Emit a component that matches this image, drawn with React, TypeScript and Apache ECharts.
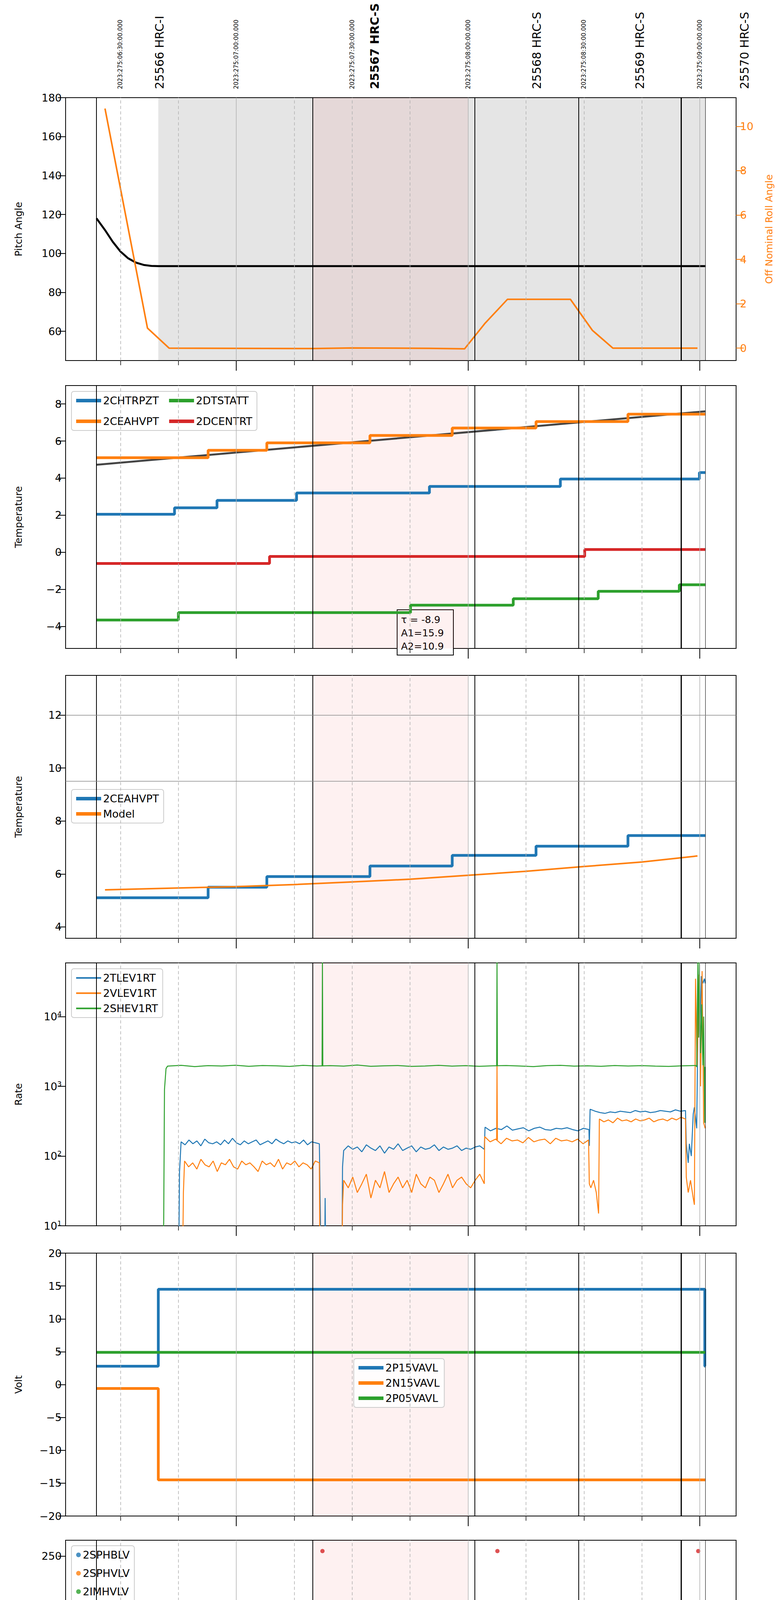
import React, { useEffect, useRef } from "react";
import * as echarts from "echarts";

// minutes after 02:00 local (2023-10-02)
const X0 = 15.8;
const X1 = 189.4;
const MAJOR = [60, 120, 180];
const MINOR = [30, 45, 75, 90, 105, 135, 150, 165];
const OBS_LINES = [23.8, 79.8, 121.7, 148.6, 175.2];
const END_LINE = 181.4;
const PINK = [79.8, 120];
const GRAY = [39.8, 181.4];

const DATE_LABELS = [
  { t: 30, text: "2023:275:06:30:00.000" },
  { t: 60, text: "2023:275:07:00:00.000" },
  { t: 90, text: "2023:275:07:30:00.000" },
  { t: 120, text: "2023:275:08:00:00.000" },
  { t: 150, text: "2023:275:08:30:00.000" },
  { t: 180, text: "2023:275:09:00:00.000" },
];
const OBS_LABELS = [
  { x: 408, text: "25566 HRC-I", bold: false },
  { x: 959, text: "25567 HRC-S", bold: true },
  { x: 1374, text: "25568 HRC-S", bold: false },
  { x: 1638, text: "25569 HRC-S", bold: false },
  { x: 1906, text: "25570 HRC-S", bold: false },
];

// panel 1
const pitch = [[23.8, 118], [26, 112], [28, 106], [30, 101], [32, 97.5], [34, 95.3], [36, 94.1], [38, 93.6], [39.8, 93.5], [181.4, 93.5]];
const roll = [[26.0, 10.8], [37.0, 0.9], [42.6, 0], [80, -0.02], [90, 0.01], [110, -0.01], [119.1, -0.03], [124.3, 1.1], [130.2, 2.2], [146.5, 2.2], [152.2, 0.8], [157.5, 0], [179.4, 0]];

// panel 2 (step starts, last point = end)
const chtrpzt = [[23.8, 2.05], [44.0, 2.4], [55.0, 2.8], [75.6, 3.2], [110.0, 3.55], [143.9, 3.95], [179.9, 4.3], [181.4, 4.3]];
const ceahvpt = [[23.8, 5.1], [52.7, 5.5], [67.9, 5.9], [94.6, 6.3], [115.9, 6.7], [137.6, 7.05], [161.4, 7.45], [181.4, 7.45]];
const dtstatt = [[23.8, -3.65], [45.0, -3.25], [105.1, -2.85], [131.7, -2.5], [153.7, -2.1], [174.7, -1.75], [181.4, -1.75]];
const dcentrt = [[23.8, -0.6], [68.6, -0.22], [150.2, 0.15], [181.4, 0.15]];
const fitLine = [[23.8, 4.72], [181.4, 7.6]];

// panel 3
const model = [[26, 5.4], [45, 5.47], [60, 5.52], [75, 5.6], [90, 5.7], [105, 5.8], [120, 5.95], [135, 6.1], [150, 6.28], [165, 6.45], [179.4, 6.68]];

// panel 4 (rates, hand read)
const tlevA = [160, 145, 170, 150, 165, 140, 175, 155, 150, 160, 145, 170, 150, 180, 155, 145, 165, 150, 160, 170, 145, 155, 165, 150, 175, 160, 150, 165, 155, 160, 150, 170, 145, 160, 155, 150];
const tlevB = [120, 140, 125, 135, 115, 145, 130, 120, 140, 110, 135, 125, 150, 120, 130, 140, 115, 135, 125, 130, 145, 120, 135, 125, 130, 140, 120, 130, 125, 135, 140, 125];
const tlevC = [260, 230, 250, 240, 270, 235, 245, 255, 230, 250, 260, 240, 235, 250, 245, 255, 240, 230, 250, 240];
const tlevD = [470, 440, 420, 410, 430, 420, 440, 430, 420, 450, 430, 440, 420, 430, 450, 440, 430, 460, 440, 450];
const vlevA = [85, 70, 80, 65, 90, 75, 70, 85, 60, 80, 75, 90, 70, 65, 85, 75, 80, 70, 60, 85, 75, 80, 70, 90, 65, 80, 75, 85, 70, 80, 75, 65, 85, 80];
const vlevB = [45, 35, 50, 30, 40, 55, 25, 45, 35, 60, 30, 40, 50, 35, 45, 30, 55, 40, 35, 50, 45, 30, 40, 55, 35, 45, 50, 40, 35, 45, 55, 40];
const vlevC = [190, 160, 175, 150, 180, 165, 170, 155, 185, 160, 170, 175, 150, 180, 165, 170, 160, 175, 150, 170];
const vlevD = [340, 310, 330, 300, 350, 320, 330, 310, 340, 320, 330, 350, 310, 330, 340, 320, 350, 330, 360, 340];
const shev = [1950, 2000, 1920, 1980, 1960, 2010, 1940, 1990, 1970, 1930, 2000, 1960, 1980, 1950, 2020, 1940, 1970, 1990, 1930, 1960, 2000, 1950, 1980, 1940, 1970, 1990, 1960, 1920, 1980, 2000, 1950, 1970, 1940, 1990, 1960, 1980, 1950, 1930, 1970, 1990];

// panel 5
const p15 = [[23.8, 2.8], [39.8, 14.5], [181.3, 2.8], [181.4, 2.8]];
const n15 = [[23.8, -0.6], [39.8, -14.5], [181.4, -14.5]];
const p05 = [[23.8, 4.9], [181.4, 4.9]];

// panel 6
const imhblvPts = [[42.8, 127], [42.85, 125], [42.9, 120], [43.2, 105], [43.8, 100], [44.5, 93], [45.3, 92], [46, 89], [82.3, 255], [127.6, 255], [179.6, 255]];
const imhblvFlat = [[46.8, 86], [82.0, 86]];
const imhvlvPts = [[43.0, 100], [44.0, 96], [44.5, 90], [45.5, 85], [46.2, 82]];
const imhvlvFlat = [[46.6, 79.5], [82.0, 79.5]];
const sphblvPts = [[84.8, 118], [85.0, 102], [85.4, 102], [86.0, 98], [86.6, 92], [87.2, 87], [87.8, 82]];
const sphblvFlat = [[88.6, 77], [181.4, 77]];
const sphvlvPts = [[84.8, 127], [84.9, 126], [85.2, 96], [86.0, 90], [86.6, 85], [87.2, 80], [87.8, 75], [178.6, 127], [179.7, 127]];
const sphvlvFlat = [[88.4, 70.5], [181.4, 70.5]];

// panel 7
const spinatm = [[39.8, 1.95], [44.1, 2.35], [134.3, 2.8], [178.3, 2.8], [178.4, -1], [180.5, -1], [180.6, 2.8], [181.4, 2.8]];
const sphvatm = [[39.8, 14.4], [81.7, 14.7], [93.1, 14.7], [96.3, 15.25], [100.6, 15.5], [104.5, 15.8], [108.3, 16.1], [112.9, 16.35], [118.1, 16.65], [123.9, 16.95], [130.4, 17.25], [137.8, 17.5], [146.6, 17.8], [156.0, 18.1], [167.3, 18.4], [178.3, 10.3], [180.9, 18.6], [181.4, 18.6]];
const iminatm = [[39.8, 0.25], [61.4, 0.65], [147.9, 1.05], [181.4, 1.05]];
const imhvatm = [[39.7, -5], [39.8, 13.85], [53.3, 14.1], [59.4, 14.4], [64.9, 14.7], [72.5, 14.95], [79.8, 15.25], [92.1, 15.0], [103.8, 14.75], [121.3, 15.0], [147.2, 15.25], [173.8, 15.5], [181.4, 15.5]];

// panel 8
const fhtrmzt = [[23.8, -5.2], [32.5, -5.6], [50.2, -5.2], [62.0, -4.8], [72.3, -4.4], [82.3, -4.05], [92.8, -3.65], [103.4, -3.25], [114.6, -2.9], [126.4, -2.5], [138.3, -2.1], [150.7, -1.75], [163.7, -1.4], [177.6, -1.0], [181.4, -1.0]];
const fradpyt = [[23.8, -6.8], [27.1, -7.2], [36.7, -7.6], [56.4, -7.2], [69.9, -6.8], [82.3, -6.4], [94.7, -6.0], [107.3, -5.6], [120.4, -5.2], [134.0, -4.8], [148.5, -4.4], [163.4, -4.05], [178.2, -3.65], [181.4, -3.65]];
const fepratm = [[39.8, -4.2], [43.9, -3.8], [46.4, -3.4], [49.5, -3.0], [53.8, -2.65], [59.5, -2.25], [66.2, -1.85], [74.5, -1.4], [83.3, -1.0], [93.4, -0.6], [104.2, -0.2], [115.9, 0.25], [128.2, 0.65], [141.8, 1.05], [155.7, 1.5], [171.0, 1.95], [181.4, 1.95]];
const fe00atm = [[39.7, -9], [39.8, -3.1], [50.7, -2.75], [57.7, -2.45], [64.3, -2.1], [71.4, -1.8], [78.2, -1.45], [85.4, -1.1], [93.2, -0.8], [101.2, -0.45], [109.6, -0.15], [118.7, 0.2], [128.1, 0.5], [137.5, 0.8], [147.0, 1.1], [156.7, 1.45], [168.2, 1.75], [181.4, 1.75]];
const fe00Spikes = [[48.2, -2.75, -3.9], [55.9, -2.45, -3.2], [61.9, -2.1, -2.8], [72.1, -1.8, -2.1], [82.4, -1.45, -9], [90.9, -1.1, -0.75], [98.6, -0.8, 0.5], [116.9, -0.15, -1.2], [119.5, 0.2, -0.2], [127.6, 0.2, -9], [142.2, 0.8, 1.45], [155.6, 1.1, 1.8], [156.6, 1.1, 0.5], [174.4, 1.75, 1.1], [176.6, 1.75, 1.4]];

const C = ["#1f77b4", "#ff7f0e", "#2ca02c", "#d62728"];
const FONT = "DejaVu Sans";
const TOPS = [250, 987, 1729, 2465, 3208, 3943, 4687, 5420];
const GH = 673;
const GL = 168;
const GW = 1717;

const px = (t: number) => GL + ((t - X0) / (X1 - X0)) * GW;
const spread = (t0: number, t1: number, vals: number[]) =>
  vals.map((v, i) => [t0 + ((t1 - t0) * i) / (vals.length - 1), v]);
const spike = (t: number, a: number, b: number) => [[t - 0.1, a], [t, b], [t + 0.1, a]];

const App = () => {
  const ref = useRef<HTMLDivElement>(null);

  useEffect(() => {
    if (!ref.current) return;
    const chart = echarts.init(ref.current, undefined, { renderer: "svg" });

    const grid = TOPS.map((top) => ({
      left: GL, top, width: GW, height: GH, show: true,
      borderColor: "#000", borderWidth: 2, backgroundColor: "transparent",
    }));

    const xAxis: any[] = [];
    TOPS.forEach((_, i) => {
      const last = i === 7;
      xAxis.push({
        type: "value", gridIndex: i, min: X0, max: X1, position: "bottom",
        axisLine: { show: false, onZero: false }, splitLine: { show: false },
        axisTick: { show: true, customValues: MAJOR, length: 26, lineStyle: { color: "#000", width: 2 } },
        axisLabel: {
          show: last, customValues: MAJOR, margin: 50, fontSize: 27, fontFamily: FONT, color: "#000",
          formatter: (v: number) => "0" + (2 + v / 60) + "h",
        },
        name: last ? "2023-10-02 (275)" : "", nameLocation: "middle", nameGap: 96,
        nameTextStyle: { fontSize: 32, fontFamily: FONT, color: "#000" },
      });
      xAxis.push({
        type: "value", gridIndex: i, min: X0, max: X1, position: "bottom",
        axisLine: { show: false, onZero: false }, splitLine: { show: false },
        axisTick: { show: true, customValues: MINOR, length: 12, lineStyle: { color: "#000", width: 1.5 } },
        axisLabel: {
          show: last, customValues: MINOR, margin: 14, fontSize: 20, fontFamily: FONT, color: "#000",
          formatter: (v: number) => String(v % 60),
        },
      });
    });

    const yBase = (i: number, min: number, max: number, ticks: number[], name: string, fmt?: any) => ({
      type: "value", gridIndex: i, min, max, name, nameLocation: "middle", nameGap: 108,
      nameTextStyle: { fontSize: 25, fontFamily: FONT, color: "#000" },
      axisLine: { show: false, onZero: false }, splitLine: { show: false },
      axisTick: { show: true, customValues: ticks, length: 20, lineStyle: { color: "#000", width: 2 } },
      axisLabel: { customValues: ticks, fontSize: 27, fontFamily: FONT, color: "#000", margin: 10, formatter: fmt },
    });
    const minus = (v: number) => (v < 0 ? "\u2212" + -v : String(v));

    const yAxis: any[] = [
      yBase(0, 45, 180, [60, 80, 100, 120, 140, 160, 180], "Pitch Angle"),
      yBase(1, -5.18, 8.99, [-4, -2, 0, 2, 4, 6, 8], "Temperature", minus),
      yBase(2, 3.57, 13.5, [4, 6, 8, 10, 12], "Temperature"),
      {
        ...yBase(3, 10, 59000, [], "Rate"),
        type: "log", logBase: 10,
        axisTick: { show: true, customValues: [10, 100, 1000, 10000], length: 20, lineStyle: { color: "#000", width: 2 } },
        axisLabel: {
          customValues: [10, 100, 1000, 10000], margin: 10, color: "#000",
          formatter: (v: number) => "{b|10}{s|" + Math.round(Math.log10(v)) + "}",
          rich: {
            b: { fontSize: 27, fontFamily: FONT, color: "#000" },
            s: { fontSize: 18, fontFamily: FONT, color: "#000", padding: [0, 0, 14, 0] },
          },
        },
      },
      yBase(4, -20, 20, [-20, -15, -10, -5, 0, 5, 10, 15, 20], "Volt", minus),
      yBase(5, 0, 266, [0, 50, 100, 150, 200, 250], "HV Monitor"),
      yBase(6, -0.83, 19.0, [0, 2.5, 5, 7.5, 10, 12.5, 15, 17.5], "Detector Temp", (v: number) => v.toFixed(1)),
      yBase(7, -8.27, 2.59, [-8, -6, -4, -2, 0, 2], "FEA Temp", minus),
      {
        ...yBase(0, -0.56, 11.29, [0, 2, 4, 6, 8, 10], "Off Nominal Roll Angle"),
        position: "right", nameGap: 72,
        nameTextStyle: { fontSize: 25, fontFamily: FONT, color: C[1] },
        axisTick: { show: true, customValues: [0, 2, 4, 6, 8, 10], length: 20, lineStyle: { color: C[1], width: 2 } },
        axisLabel: { customValues: [0, 2, 4, 6, 8, 10], fontSize: 27, fontFamily: FONT, color: C[1], margin: 10 },
      },
    ];

    const series: any[] = [];

    // background: shaded spans and vertical lines
    TOPS.forEach((_, i) => {
      const areas: any[] = [];
      if (i === 0) areas.push([{ xAxis: GRAY[0], itemStyle: { color: "rgba(0,0,0,0.1)" } }, { xAxis: GRAY[1] }]);
      areas.push([{ xAxis: PINK[0], itemStyle: { color: "rgba(235,40,40,0.065)" } }, { xAxis: PINK[1] }]);
      const lines: any[] = [
        ...MINOR.map((t) => ({ xAxis: t, lineStyle: { color: "#b0b0b0", width: 1.5, type: [8, 6] } })),
        ...MAJOR.map((t) => ({ xAxis: t, lineStyle: { color: "#b0b0b0", width: 1.5, type: "solid" } })),
        ...OBS_LINES.map((t, k) => ({ xAxis: t, lineStyle: { color: "#000", width: k === 4 ? 3 : 2, type: "solid" } })),
        { xAxis: END_LINE, lineStyle: { color: "#000", width: 1, type: "solid" } },
      ];
      if (i === 2) {
        lines.push({ yAxis: 12, lineStyle: { color: "#888", width: 1.5, type: "solid" } });
        lines.push({ yAxis: 9.5, lineStyle: { color: "#888", width: 1.5, type: "solid" } });
      }
      series.push({
        type: "line", xAxisIndex: 2 * i, yAxisIndex: i, data: [], silent: true, z: 1,
        markArea: { silent: true, label: { show: false }, data: areas },
        markLine: { silent: true, symbol: "none", label: { show: false }, data: lines },
      });
    });

    const ln = (i: number, name: string, color: string, data: any[], width: number, step?: boolean, yIdx?: number) => ({
      type: "line", name, xAxisIndex: 2 * i, yAxisIndex: yIdx ?? i, data, step: step ? "end" : false,
      showSymbol: false, symbol: "none", lineStyle: { color, width }, itemStyle: { color }, z: 3,
    });
    const sc = (i: number, name: string, color: string, data: any[]) => ({
      type: "scatter", name, xAxisIndex: 2 * i, yAxisIndex: i, data, symbolSize: 11, itemStyle: { color }, z: 4,
    });

    // panel 1
    series.push(ln(0, "pitch", "#000", pitch, 5));
    series.push(ln(0, "roll", C[1], roll, 4, false, 8));

    // panel 2
    series.push(ln(1, "fit", "#444", fitLine, 5));
    series.push(ln(1, "2CHTRPZT", C[0], chtrpzt, 7, true));
    series.push(ln(1, "2CEAHVPT", C[1], ceahvpt, 7, true));
    series.push(ln(1, "2DTSTATT", C[2], dtstatt, 7, true));
    series.push(ln(1, "2DCENTRT", C[3], dcentrt, 7, true));

    // panel 3
    series.push(ln(2, "2CEAHVPT ", C[0], ceahvpt, 7, true));
    series.push(ln(2, "Model", C[1], model, 4));

    // panel 4
    series.push(ln(3, "2TLEV1RT", C[0], [
      [15.8, 1], [45.0, 1], [45.3, 60], ...spread(45.7, 81.5, tlevA),
      [81.8, 10], [81.9, 1], [82.8, 1], [83.0, 25], [83.2, 1], [87.3, 1], [87.5, 70], ...spread(87.8, 124.2, tlevB),
      ...spread(124.4, 151.3, tlevC), [151.4, 140], ...spread(151.6, 176.3, tlevD),
      [176.5, 150], [177.0, 80], [177.3, 150], [177.8, 100], [178.3, 400], [178.6, 500], [179.2, 250],
      [179.6, 20000], [180.0, 5000], [180.4, 38000], [180.8, 30000], [181.2, 35000], [181.4, 30000],
    ], 2.5));
    series.push(ln(3, "2VLEV1RT", C[1], [
      [15.8, 1], [46.0, 1], [46.3, 30], ...spread(46.6, 81.5, vlevA),
      [81.7, 1], [87.3, 1], [87.5, 20], ...spread(87.8, 124.2, vlevB),
      ...spread(124.3, 151.2, vlevC), [151.4, 40], [151.8, 35], [152.5, 45], [153.2, 30], [153.8, 15],
      ...spread(154.0, 176.3, vlevD),
      [176.5, 50], [177.0, 30], [177.6, 45], [178.3, 25], [178.6, 20], [178.9, 35000], [179.3, 2000],
      [179.8, 40000], [180.2, 1000], [180.6, 45000], [181.0, 300], [181.4, 250],
    ], 2.5));
    series.push(ln(3, "2VLEV1RT", C[1], spike(127.5, 170, 2000), 2.5));
    series.push(ln(3, "2SHEV1RT", C[2], [
      [15.8, 1], [41.0, 1], [41.2, 12], [41.4, 900], [41.8, 1800], ...spread(42.2, 179.0, shev),
      [179.2, 1900], [179.5, 60000], [179.7, 5000], [179.9, 60000], [180.2, 3000], [180.5, 15000],
      [180.8, 2000], [181.0, 10000], [181.3, 300], [181.4, 1900],
    ], 2.5));
    series.push(ln(3, "2SHEV1RT", C[2], spike(82.3, 1950, 60000), 2.5));
    series.push(ln(3, "2SHEV1RT", C[2], spike(127.5, 1950, 60000), 2.5));

    // panel 5
    series.push(ln(4, "2P15VAVL", C[0], p15, 7, true));
    series.push(ln(4, "2N15VAVL", C[1], n15, 7, true));
    series.push(ln(4, "2P05VAVL", C[2], p05, 7, true));

    // panel 6
    series.push(sc(5, "2SPHBLV", C[0], sphblvPts));
    series.push(ln(5, "2SPHBLV", C[0], sphblvFlat, 11));
    series.push(sc(5, "2SPHVLV", C[1], sphvlvPts));
    series.push(ln(5, "2SPHVLV", C[1], sphvlvFlat, 11));
    series.push(sc(5, "2IMHVLV", C[2], imhvlvPts));
    series.push(ln(5, "2IMHVLV", C[2], imhvlvFlat, 11));
    series.push(sc(5, "2IMHBLV", C[3], imhblvPts));
    series.push(ln(5, "2IMHBLV", C[3], imhblvFlat, 11));

    // panel 7
    series.push(ln(6, "2SPINATM", C[0], spinatm, 7, true));
    series.push(ln(6, "2SPINATM", C[0], spike(136.6, 2.8, 2.35), 5));
    series.push(ln(6, "2SPHVATM", C[1], sphvatm, 7, true));
    series.push(ln(6, "2SPHVATM", C[1], spike(127.5, 16.95, 15.0), 5));
    series.push(ln(6, "2IMINATM", C[2], iminatm, 7, true));
    series.push(ln(6, "2IMINATM", C[2], [[178.2, 1.05], [178.3, 2.8], [181.0, 2.8], [181.1, 1.05]], 7));
    series.push(ln(6, "2IMHVATM", C[3], imhvatm, 7, true));
    series.push(ln(6, "2IMHVATM", C[3], spike(82.4, 15.25, -5), 6));
    series.push(ln(6, "2IMHVATM", C[3], spike(127.5, 15.0, -5), 6));
    series.push(ln(6, "2IMHVATM", C[3], [[178.3, 15.5], [178.4, 18.4], [178.6, -1], [179.0, 18.4], [179.4, -1], [179.7, 18.6], [180.2, -1], [180.6, 18.6], [181.0, 15.5], [181.4, 15.5]], 6));

    // panel 8
    series.push(ln(7, "2FHTRMZT", C[0], fhtrmzt, 7, true));
    series.push(ln(7, "2FHTRMZT", C[0], spike(159.5, -1.75, -2.9), 5));
    series.push(ln(7, "2FRADPYT", C[1], fradpyt, 7, true));
    series.push(ln(7, "2FEPRATM", C[2], fepratm, 7, true));
    series.push(ln(7, "2FEPRATM", C[2], [[178.2, 1.95], [178.3, -4.6], [179.0, 1.9], [179.6, -4.6], [180.3, 1.95]], 6));
    series.push(ln(7, "2FE00ATM", C[3], fe00atm, 7, true));
    fe00Spikes.forEach(([t, a, b]) => series.push(ln(7, "2FE00ATM", C[3], spike(t, a, b), 5)));
    series.push(ln(7, "2FE00ATM", C[3], [[178.2, 1.75], [178.4, 2.6], [178.9, -9], [179.4, 2.6], [180.0, -9], [180.6, 2.6], [181.0, 1.9], [181.4, 1.9]], 6));

    const legendBase = {
      backgroundColor: "rgba(255,255,255,0.85)", borderColor: "#ccc", borderWidth: 2, borderRadius: 6,
      padding: [10, 12], itemGap: 12, orient: "vertical",
      textStyle: { fontSize: 27, fontFamily: FONT, color: "#000" },
      itemWidth: 64, itemHeight: 9, icon: "rect", selectedMode: false,
      formatter: (n: string) => n.trim(),
    };
    const legend: any[] = [
      { ...legendBase, orient: "horizontal", width: 480, left: 183, top: 1002, itemGap: 26, data: ["2CHTRPZT", "2DTSTATT", "2CEAHVPT", "2DCENTRT"] },
      { ...legendBase, left: 183, top: 2021, data: ["2CEAHVPT ", "Model"] },
      { ...legendBase, left: 183, top: 2480, itemHeight: 4, data: ["2TLEV1RT", "2VLEV1RT", "2SHEV1RT"] },
      { ...legendBase, left: 906, top: 3478, data: ["2P15VAVL", "2N15VAVL", "2P05VAVL"] },
      { ...legendBase, left: 183, top: 3957, icon: "circle", itemWidth: 12, itemHeight: 12, itemGap: 20, data: ["2SPHBLV", "2SPHVLV", "2IMHVLV", "2IMHBLV"] },
      { ...legendBase, left: 904, top: 4935, data: ["2SPINATM", "2SPHVATM", "2IMINATM", "2IMHVATM"] },
      { ...legendBase, left: 183, top: 5434, data: ["2FHTRMZT", "2FRADPYT", "2FEPRATM", "2FE00ATM"] },
    ];

    const graphic: any[] = [
      ...DATE_LABELS.map((d) => ({
        type: "text", x: px(d.t), y: 228, rotation: Math.PI / 2,
        style: { text: d.text, fontSize: 15, fontFamily: FONT, fill: "#000", align: "left", verticalAlign: "middle" },
      })),
      ...OBS_LABELS.map((d) => ({
        type: "text", x: d.x, y: 228, rotation: Math.PI / 2,
        style: { text: d.text, fontSize: 30, fontWeight: d.bold ? "bold" : "normal", fontFamily: FONT, fill: "#000", align: "left", verticalAlign: "middle" },
      })),
      {
        type: "group", x: 1017, y: 1561, z: 100,
        children: [
          { type: "rect", shape: { x: 0, y: 0, width: 144, height: 116 }, style: { fill: "#fff", stroke: "#000", lineWidth: 2 } },
          { type: "text", x: 10, y: 8, style: { text: "\u03c4 = -8.9\nA1=15.9\nA2=10.9", fontSize: 25, lineHeight: 34, fontFamily: FONT, fill: "#000" } },
        ],
      },
    ];

    chart.setOption({
      animation: false,
      backgroundColor: "#fff",
      grid, xAxis, yAxis, series, legend, graphic,
    });

    return () => chart.dispose();
  }, []);

  return <div ref={ref} style={{ width: 2000, height: 6200, margin: -8 }} />;
};

export default App;
